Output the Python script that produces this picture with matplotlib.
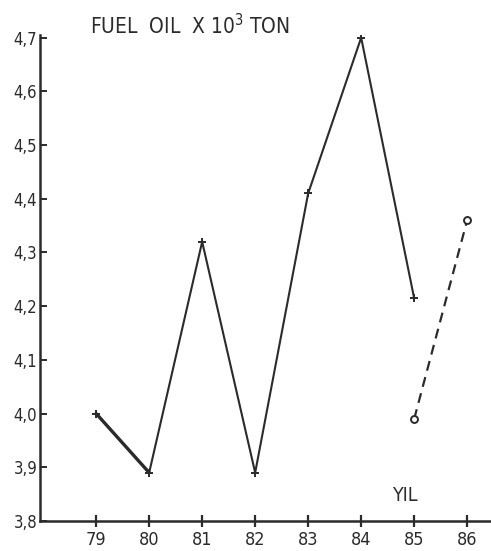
import matplotlib
matplotlib.use("Agg")
import matplotlib.pyplot as plt

plt.rcParams['font.family'] = ['DejaVu Sans']
plt.rcParams['font.stretch'] = 'condensed'

# Yearly fuel oil consumption (x 10^3 ton)
years = [79, 80, 81, 82, 83, 84, 85]
values = [4.00, 3.89, 4.32, 3.89, 4.41, 4.70, 4.215]

# Projected segment
proj_years = [85, 86]
proj_values = [3.99, 4.36]

x_ticks = [79, 80, 81, 82, 83, 84, 85, 86]
x_labels = ["79", "80", "81", "82", "83", "84", "85", "86"]
y_ticks = [3.8, 3.9, 4.0, 4.1, 4.2, 4.3, 4.4, 4.5, 4.6, 4.7]
y_labels = ["3,8", "3,9", "4,0", "4,1", "4,2", "4,3", "4,4", "4,5", "4,6", "4,7"]

ink = "#2b2b2b"

fig = plt.figure(figsize=(4.91, 5.51), dpi=100)
ax = fig.add_axes([40 / 491, 1 - 521 / 551, 1 - 40 / 491, (521 - 35) / 551])

ax.plot(years, values, color=ink, lw=1.5, marker="+", ms=6, mew=1.4)
ax.plot(years[:2], values[:2], color=ink, lw=2.4, solid_capstyle="round")
ax.plot(proj_years, proj_values, color=ink, lw=1.6, ls=(0, (4.5, 3)),
        marker="o", ms=5, mfc="white", mec=ink, mew=1.4)

ax.set_xlim(77.94, 86.45)
ax.set_ylim(3.8, 4.705)

ax.set_xticks(x_ticks)
ax.set_xticklabels(x_labels)
ax.set_yticks(y_ticks)
ax.set_yticklabels(y_labels)

for s in ("top", "right"):
    ax.spines[s].set_visible(False)
for s in ("left", "bottom"):
    ax.spines[s].set_color(ink)
    ax.spines[s].set_linewidth(1.8)

ax.tick_params(axis="y", direction="in", length=5, width=1.4, colors=ink,
               labelsize=12, pad=2)
ax.tick_params(axis="x", direction="inout", length=9, width=1.6, colors=ink,
               labelsize=13, pad=3)

fig.text(90 / 491, 1 - 26 / 551, "FUEL  OIL  X 10$^{3}$ TON", color=ink,
         fontsize=15, va="center", ha="left")
ax.text(84.82, 3.83, "YIL", color=ink, fontsize=14, ha="center", va="bottom")

fig.savefig("out.png", dpi=100, facecolor="white")
